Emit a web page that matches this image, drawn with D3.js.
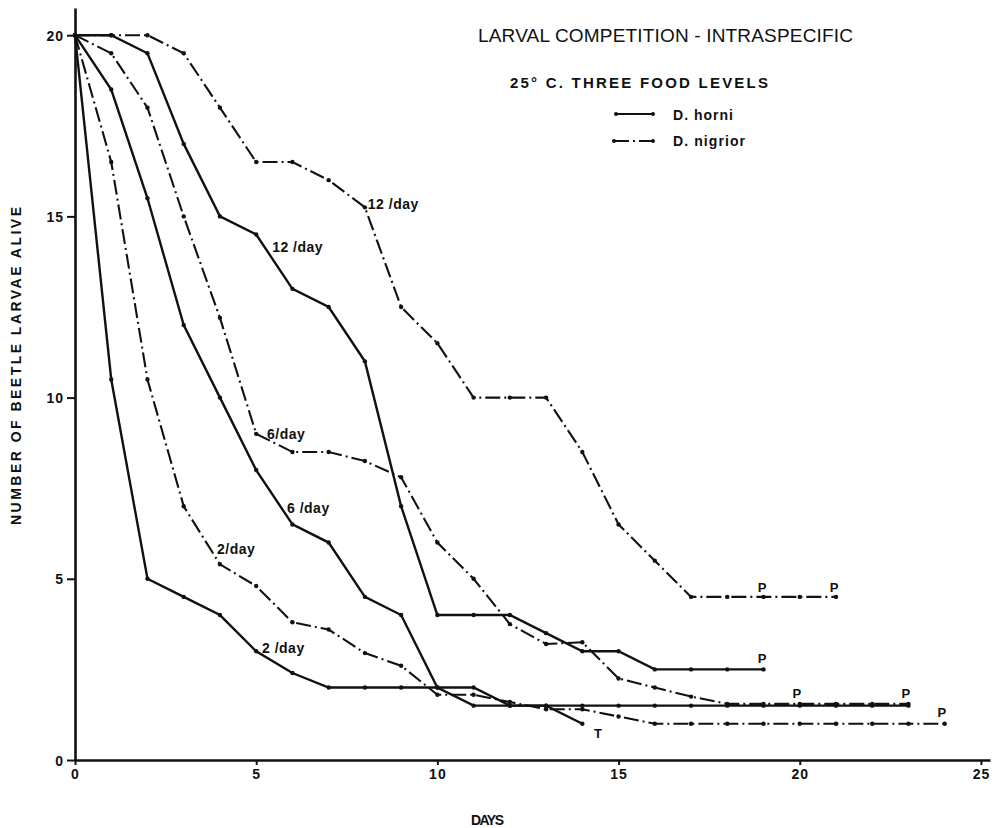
<!DOCTYPE html>
<html>
<head>
<meta charset="utf-8">
<script src="https://cdn.jsdelivr.net/npm/d3@7"></script>
<style>
  body { margin: 0; background: #fff; }
  svg { display: block; }
  text { font-family: "Liberation Sans", Arial, sans-serif; fill: #111; }
</style>
</head>
<body>
<div id="chart"><svg></svg></div>
<script>
// days on the x axis
var days = [0, 1, 2, 3, 4, 5, 6, 7, 8, 9, 10, 11, 12, 13, 14, 15, 16, 17, 18, 19, 20, 21, 22, 23, 24];

// D. horni (solid), larvae alive per day
var horni12 = [20, 20, 19.5, 17, 15, 14.5, 13, 12.5, 11, 7, 4, 4, 4, 3.5, 3, 3, 2.5, 2.5, 2.5, 2.5];
var horni6  = [20, 18.5, 15.5, 12, 10, 8, 6.5, 6, 4.5, 4, 2, 1.5, 1.5, 1.5, 1.5, 1.5, 1.5, 1.5, 1.5, 1.5, 1.5, 1.5, 1.5, 1.5];
var horni2  = [20, 10.5, 5, 4.5, 4, 3, 2.4, 2, 2, 2, 2, 2, 1.5, 1.5, 1];

// D. nigrior (dash-dot)
var nigrior12 = [20, 20, 20, 19.5, 18, 16.5, 16.5, 16, 15.25, 12.5, 11.5, 10, 10, 10, 8.5, 6.5, 5.5, 4.5, 4.5, 4.5, 4.5, 4.5];
var nigrior6  = [20, 19.5, 18, 15, 12.2, 9, 8.5, 8.5, 8.25, 7.8, 6, 5, 3.75, 3.2, 3.25, 2.25, 2, 1.75, 1.55, 1.55, 1.55, 1.55, 1.55, 1.55];
var nigrior2  = [20, 16.5, 10.5, 7, 5.4, 4.8, 3.8, 3.6, 2.95, 2.6, 1.8, 1.8, 1.6, 1.4, 1.4, 1.2, 1, 1, 1, 1, 1, 1, 1, 1, 1];

var xTicks = [0, 5, 10, 15, 20, 25];
var yTicks = [0, 5, 10, 15, 20];

// food level labels placed in data units
var foodLabels = [
  { text: "12 /day", day: 8.08, value: 15.2 },
  { text: "12 /day", day: 5.44, value: 14.03 },
  { text: "6/day",   day: 5.30, value: 8.86 },
  { text: "6 /day",  day: 5.85, value: 6.81 },
  { text: "2/day",   day: 3.92, value: 5.68 },
  { text: "2 /day",  day: 5.16, value: 2.95 }
];
// P = pupated, T = terminated
var endLabels = [
  { text: "P", day: 18.96, value: 4.64 },
  { text: "P", day: 20.95, value: 4.64 },
  { text: "P", day: 18.96, value: 2.68 },
  { text: "P", day: 19.92, value: 1.71 },
  { text: "P", day: 22.93, value: 1.71 },
  { text: "P", day: 23.92, value: 1.19 },
  { text: "T", day: 14.43, value: 0.61 }
];

var width = 1002, height = 828;
var svg = d3.select("#chart svg").attr("width", width).attr("height", height);

var x = d3.scaleLinear().domain([0, 25.25]).range([75, 990]);
var y = d3.scaleLinear().domain([0, 20.75]).range([760, 8]);

var dashDot = "15,4,2,4";
var series = [
  { values: horni12, dash: null },
  { values: horni6, dash: null },
  { values: horni2, dash: null },
  { values: nigrior12, dash: dashDot },
  { values: nigrior6, dash: dashDot },
  { values: nigrior2, dash: dashDot }
];

var line = d3.line()
  .x(function(d) { return x(d.day); })
  .y(function(d) { return y(d.value); });

series.forEach(function(s) {
  var pts = s.values.map(function(v, i) { return { day: days[i], value: v }; });
  svg.append("path")
    .datum(pts)
    .attr("d", line)
    .attr("fill", "none")
    .attr("stroke", "#111")
    .attr("stroke-width", s.dash ? 2.1 : 2.4)
    .attr("stroke-dasharray", s.dash);
  svg.selectAll(null)
    .data(pts)
    .enter()
    .append("circle")
    .attr("cx", function(d) { return x(d.day); })
    .attr("cy", function(d) { return y(d.value); })
    .attr("r", 2.2)
    .attr("fill", "#111");
});

// axes
var xAxis = svg.append("g")
  .attr("transform", "translate(0," + y(0) + ")")
  .call(d3.axisBottom(x).tickValues(xTicks).tickSize(5).tickSizeOuter(0).tickPadding(4));
var yAxis = svg.append("g")
  .attr("transform", "translate(" + x(0) + ",0)")
  .call(d3.axisLeft(y).tickValues(yTicks).tickSize(8).tickSizeOuter(0).tickPadding(3));
[xAxis, yAxis].forEach(function(g) {
  g.select(".domain").attr("stroke", "#111").attr("stroke-width", 2.6);
  g.selectAll(".tick line").attr("stroke", "#111").attr("stroke-width", 2);
  g.selectAll(".tick text")
    .attr("fill", "#111")
    .style("font-family", "'Liberation Sans', Arial, sans-serif")
    .style("font-size", "14px")
    .style("font-weight", "bold")
    .style("letter-spacing", "1px");
});
yAxis.selectAll(".tick text").attr("dy", "0.36em");

// axis titles
svg.append("text")
  .attr("transform", "translate(21,366) rotate(-90)")
  .attr("text-anchor", "middle")
  .attr("textLength", 318)
  .attr("lengthAdjust", "spacing")
  .style("font-size", "14px")
  .style("font-weight", "bold")
  .text("NUMBER  OF  BEETLE  LARVAE  ALIVE");

svg.append("text")
  .attr("x", 471).attr("y", 825)
  .attr("textLength", 33)
  .attr("lengthAdjust", "spacing")
  .style("font-size", "14px")
  .style("font-weight", "bold")
  .text("DAYS");

// titles
svg.append("text")
  .attr("x", 478).attr("y", 42)
  .attr("textLength", 375)
  .attr("lengthAdjust", "spacing")
  .style("font-size", "19px")
  .text("LARVAL  COMPETITION - INTRASPECIFIC");

svg.append("text")
  .attr("x", 510).attr("y", 88)
  .attr("textLength", 258)
  .attr("lengthAdjust", "spacing")
  .style("font-size", "15px")
  .style("font-weight", "bold")
  .text("25° C.  THREE  FOOD  LEVELS");

// legend
var legend = [
  { name: "D. horni", dash: null, y: 114, x0: 616, x1: 653, w: 60, base: 120 },
  { name: "D. nigrior", dash: dashDot, y: 141, x0: 614, x1: 653, w: 72, base: 146 }
];
legend.forEach(function(l) {
  svg.append("line")
    .attr("x1", l.x0).attr("x2", l.x1)
    .attr("y1", l.y).attr("y2", l.y)
    .attr("stroke", "#111")
    .attr("stroke-width", 2)
    .attr("stroke-dasharray", l.dash);
  svg.selectAll(null).data([l.x0, l.x1]).enter().append("circle")
    .attr("cx", function(d) { return d; })
    .attr("cy", l.y)
    .attr("r", 2)
    .attr("fill", "#111");
  svg.append("text")
    .attr("x", 673).attr("y", l.base)
    .attr("textLength", l.w)
    .attr("lengthAdjust", "spacing")
    .style("font-size", "14px")
    .style("font-weight", "bold")
    .text(l.name);
});

// annotations
svg.selectAll(".food")
  .data(foodLabels)
  .enter()
  .append("text")
  .attr("class", "food")
  .attr("x", function(d) { return x(d.day); })
  .attr("y", function(d) { return y(d.value); })
  .style("font-size", "14px")
  .style("font-weight", "bold")
  .style("letter-spacing", "0.5px")
  .text(function(d) { return d.text; });

svg.selectAll(".end")
  .data(endLabels)
  .enter()
  .append("text")
  .attr("class", "end")
  .attr("x", function(d) { return x(d.day); })
  .attr("y", function(d) { return y(d.value); })
  .attr("text-anchor", "middle")
  .style("font-size", "13px")
  .style("font-weight", "bold")
  .text(function(d) { return d.text; });
</script>
</body>
</html>
